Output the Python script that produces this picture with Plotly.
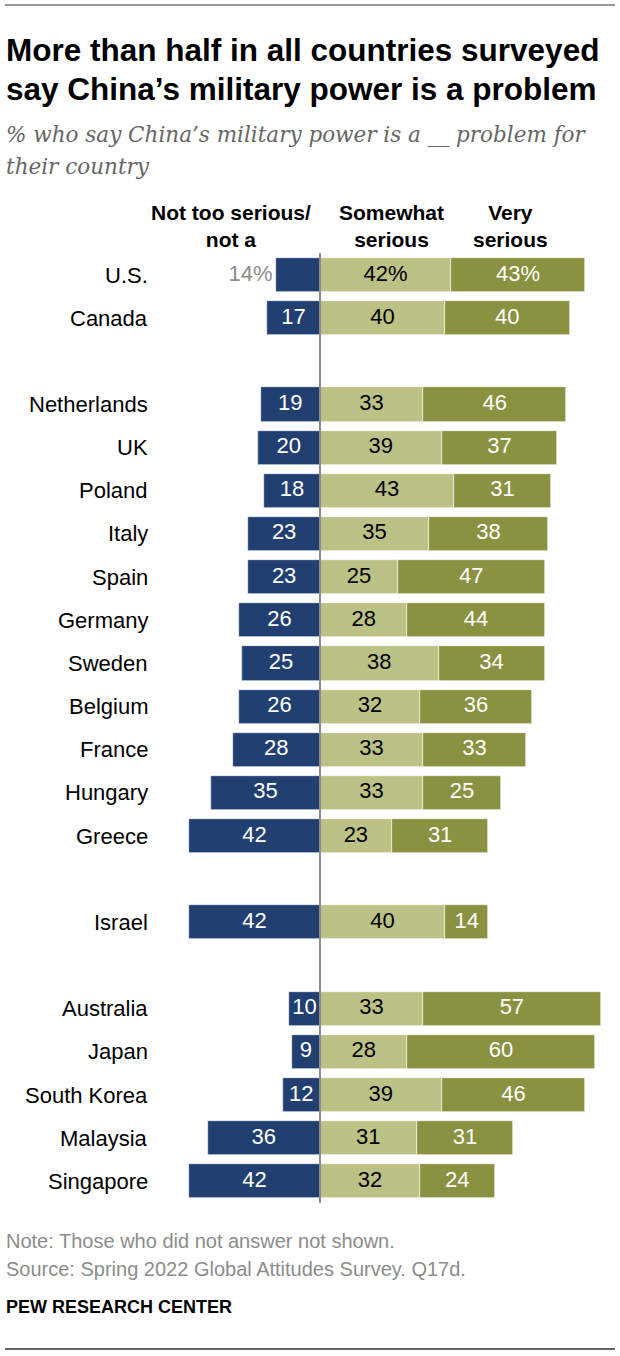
"""
Diverging bar chart: how serious a problem China's military power is
"""
import plotly.graph_objs as go

# ---- data ----
countries = [
    'U.S.', 'Canada',
    'Netherlands', 'UK', 'Poland', 'Italy', 'Spain', 'Germany', 'Sweden',
    'Belgium', 'France', 'Hungary', 'Greece',
    'Israel',
    'Australia', 'Japan', 'South Korea', 'Malaysia', 'Singapore',
]
group_sizes = [2, 11, 1, 5]
not_serious = [14, 17, 19, 20, 18, 23, 23, 26, 25, 26, 28, 35, 42, 42, 10, 9, 12, 36, 42]
somewhat = [42, 40, 33, 39, 43, 35, 25, 28, 38, 32, 33, 33, 23, 40, 33, 28, 39, 31, 32]
very = [43, 40, 46, 37, 31, 38, 47, 44, 34, 36, 33, 25, 31, 14, 57, 60, 46, 31, 24]
headers = ['Not too serious/<br>not a', 'Somewhat<br>serious', 'Very<br>serious']

title_lines = [
    'More than half in all countries surveyed',
    'say China\u2019s military power is a problem',
]
subtitle_lines = [
    '% who say China\u2019s military power is a __ problem for',
    'their country',
]
note = 'Note: Those who did not answer not shown.'
source = 'Source: Spring 2022 Global Attitudes Survey. Q17d.'
credit = 'PEW RESEARCH CENTER'

NAVY = '#213f70'
LIGHT = '#bcc186'
DARK = '#8a9140'

W, H = 620, 1356
TOP, BOTTOM = 253, 1203
SANS = 'Liberation Sans, Arial, sans-serif'

# slot positions, leaving an empty row between groups
slots = []
pos = 0
for size in group_sizes:
    slots.extend(range(pos, pos + size))
    pos += size + 1
last = slots[-1]


def px_x(x):
    return x / W


def px_y(y):
    return (BOTTOM - y) / (BOTTOM - TOP)


def pct(values):
    return [f'{v}%' if i == 0 else str(v) for i, v in enumerate(values)]


fig = go.Figure()

bar_kw = dict(orientation='h', width=0.79, hoverinfo='skip', showlegend=False)
for values, color in [([-v for v in not_serious], NAVY), (somewhat, LIGHT), (very, DARK)]:
    fig.add_trace(go.Bar(y=slots, x=values,
                         marker={'color': color, 'line': {'color': 'white', 'width': 0.6}},
                         **bar_kw))

# value labels
label_font = {'size': 22, 'family': SANS}
ns_text = pct(not_serious)
fig.add_trace(go.Scatter(
    y=slots[1:], x=[-v / 2 for v in not_serious[1:]], text=ns_text[1:],
    mode='text', textfont={**label_font, 'color': 'white'},
    hoverinfo='skip', showlegend=False, cliponaxis=False,
))
fig.add_trace(go.Scatter(
    y=slots[:1], x=[-not_serious[0] - 1.2], text=ns_text[:1],
    mode='text', textposition='middle left',
    textfont={**label_font, 'color': '#8c8c8c'},
    hoverinfo='skip', showlegend=False, cliponaxis=False,
))
fig.add_trace(go.Scatter(
    y=slots, x=[s / 2 for s in somewhat], text=pct(somewhat),
    mode='text', textfont={**label_font, 'color': 'black'},
    hoverinfo='skip', showlegend=False, cliponaxis=False,
))
fig.add_trace(go.Scatter(
    y=slots, x=[s + v / 2 for s, v in zip(somewhat, very)], text=pct(very),
    mode='text', textfont={**label_font, 'color': 'white'},
    hoverinfo='skip', showlegend=False, cliponaxis=False,
))

annotations = []
# country labels
for name, slot in zip(countries, slots):
    annotations.append(dict(
        x=px_x(150), xref='paper', xanchor='right', y=slot, yref='y',
        text=name, showarrow=False,
        font={'size': 22, 'color': 'black', 'family': SANS},
    ))

# column headers
for text, cx in zip(headers, [231, 391, 510]):
    annotations.append(dict(
        x=px_x(cx), xref='paper', xanchor='center', y=px_y(226), yref='paper',
        yanchor='middle', text=f'<b>{text}</b>', showarrow=False,
        font={'size': 21, 'color': 'black', 'family': SANS},
    ))

# title and subtitle
for text, cy in zip(title_lines, [50, 89]):
    annotations.append(dict(
        x=px_x(4), xref='paper', xanchor='left', y=px_y(cy), yref='paper',
        yanchor='middle', text=f'<b>{text}</b>', showarrow=False,
        font={'size': 31.5, 'color': 'black', 'family': SANS},
    ))
for text, cy in zip(subtitle_lines, [135, 166]):
    annotations.append(dict(
        x=px_x(4), xref='paper', xanchor='left', y=px_y(cy), yref='paper',
        yanchor='middle', text=f'<i>{text}</i>', showarrow=False,
        font={'size': 21.5, 'color': '#666666', 'family': 'DejaVu Serif, Georgia, serif'},
    ))

# footer
for text, cy, color, bold, size in [(note, 1241, '#8c8c8c', False, 20),
                                    (source, 1269, '#8c8c8c', False, 20),
                                    (credit, 1307, 'black', True, 18)]:
    annotations.append(dict(
        x=px_x(4), xref='paper', xanchor='left', y=px_y(cy), yref='paper',
        yanchor='middle', text=f'<b>{text}</b>' if bold else text, showarrow=False,
        font={'size': size, 'color': color, 'family': SANS},
    ))

shapes = [
    # center line
    dict(type='line', xref='x', yref='paper', x0=0, x1=0, y0=0, y1=1,
         line={'color': '#8c8c8c', 'width': 2}, layer='above'),
    # top and bottom rules
    dict(type='line', xref='paper', yref='paper', x0=px_x(5), x1=px_x(615),
         y0=px_y(5), y1=px_y(5), line={'color': '#777777', 'width': 1.5}),
    dict(type='line', xref='paper', yref='paper', x0=px_x(5), x1=px_x(615),
         y0=px_y(1349), y1=px_y(1349), line={'color': '#333333', 'width': 1.5}),
]

scale = 3.12  # px per percentage point
fig.update_layout(
    width=W, height=H,
    margin={'l': 0, 'r': 0, 't': TOP, 'b': H - BOTTOM, 'pad': 0},
    barmode='relative', bargap=0,
    paper_bgcolor='white', plot_bgcolor='white',
    xaxis={'range': [-320 / scale, (W - 320) / scale], 'visible': False, 'fixedrange': True},
    yaxis={'range': [last + 0.5, -0.51], 'visible': False, 'fixedrange': True},
    annotations=annotations, shapes=shapes,
    font={'family': SANS},
)

fig.write_html(
    'out.html',
    config={'displayModeBar': False},
    post_script="document.body.style.margin='0px';",
)
